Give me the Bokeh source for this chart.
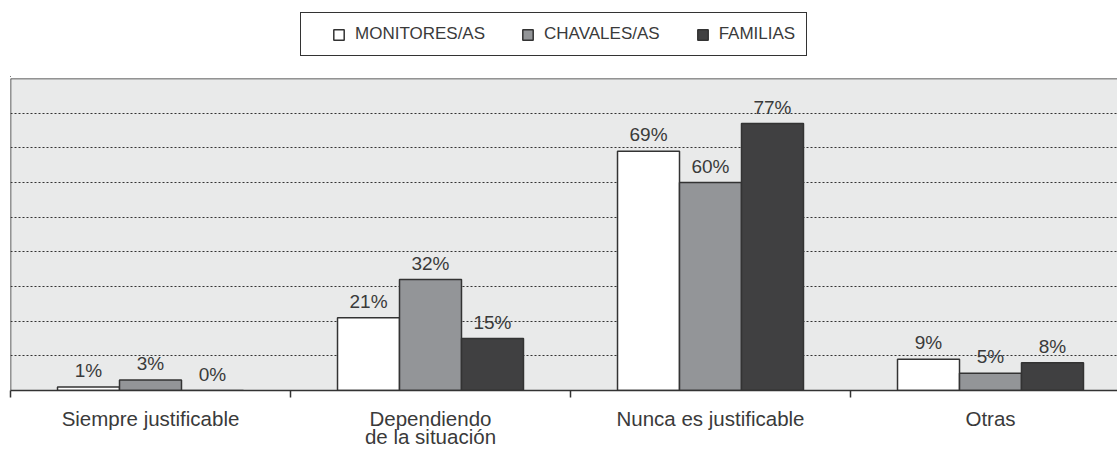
from bokeh.plotting import figure
from bokeh.layouts import column
from bokeh.models import (ColumnDataSource, Legend, LegendItem, FixedTicker, Span, Range1d)
from bokeh.transform import dodge
from bokeh.core.properties import value
from bokeh.embed import file_html
from bokeh.resources import INLINE

categories = ["Siempre justificable", "Dependiendo\nde la situación", "Nunca es justificable", "Otras"]
series_names = ["MONITORES/AS", "CHAVALES/AS", "FAMILIAS"]
monitores = [1, 21, 69, 9]
chavales = [3, 32, 60, 5]
familias = [0, 15, 77, 8]
grid_ticks = [10, 20, 30, 40, 50, 60, 70, 80]

FONT = "Liberation Sans"
TXT = "#3a3a3a"
EDGE = "#333333"
colors = ["#ffffff", "#939598", "#404041"]

xs = [i + 0.5 for i in range(len(categories))]
src = ColumnDataSource(dict(
    x=xs,
    m=monitores, c=chavales, f=familias,
    ml=[f"{v}%" for v in monitores],
    cl=[f"{v}%" for v in chavales],
    fl=[f"{v}%" for v in familias],
))
fields = ["m", "c", "f"]
lfields = ["ml", "cl", "fl"]

# ---- legend strip (top) ----
TOP_H = 77
lg = figure(width=1117, height=TOP_H, output_backend="svg", toolbar_location=None,
            x_range=Range1d(100, 101), y_range=Range1d(1000, 1001),
            min_border_left=0, min_border_right=0, min_border_top=0, min_border_bottom=0)
lg.axis.visible = False
lg.grid.visible = False
lg.outline_line_color = None
lg_r = []
for fld, col in zip(fields, colors):
    lg_r.append(lg.vbar(x="x", top=fld, width=0.1, source=src, fill_color=col,
                        line_color=EDGE, line_width=1.5))
legend = Legend(items=[LegendItem(label=n, renderers=[r]) for n, r in zip(series_names, lg_r)],
                orientation="horizontal", location=(290, TOP_H - 56),
                title=" ", title_location="left", title_standoff=0)
legend.title_text_font = FONT
legend.title_text_font_size = "17px"
legend.border_line_color = EDGE
legend.border_line_alpha = 1.0
legend.border_line_width = 1.5
legend.padding = 11
legend.spacing = 36
legend.margin = 0
legend.glyph_width = 13
legend.glyph_height = 13
legend.label_standoff = 10
legend.label_text_font = FONT
legend.label_text_font_size = "17px"
legend.label_text_color = TXT
legend.background_fill_color = "white"
legend.background_fill_alpha = 1.0
legend.label_height = 20
lg.add_layout(legend, "center")

# ---- main chart ----
p = figure(width=1117, height=450 - TOP_H, output_backend="svg", toolbar_location=None,
           x_range=Range1d(0, 1107 / 280), y_range=Range1d(0, 90),
           min_border_left=10, min_border_right=0, min_border_top=1, min_border_bottom=50,
           background_fill_color="#e9eaea", border_fill_color="white")
p.outline_line_color = None
p.xgrid.grid_line_color = None
p.ygrid.ticker = FixedTicker(ticks=grid_ticks)
p.ygrid.grid_line_color = EDGE
p.ygrid.grid_line_dash = "2 2"
p.ygrid.grid_line_width = 1
p.yaxis.visible = False

bw = 0.2214
offs = [-bw, 0, bw]
for fld, lf, off, col in zip(fields, lfields, offs, colors):
    p.vbar(x=dodge("x", off), top=fld, width=bw, source=src, fill_color=col,
           line_color=EDGE, line_width=1.5)
    p.text(x=dodge("x", off), y=fld, text=lf, source=src, text_align="center",
           text_baseline="bottom", y_offset=-6, text_font=value(FONT),
           text_font_size="19px", text_color=TXT)

# frame borders (top & left)
p.add_layout(Span(location=90, dimension="width", line_color=EDGE, line_width=1.5))
p.add_layout(Span(location=0, dimension="height", line_color=EDGE, line_width=1.5))

ax = p.xaxis[0]
ax.ticker = FixedTicker(ticks=xs, minor_ticks=[0, 1, 2, 3, 4])
ax.major_label_overrides = {x: c for x, c in zip(xs, categories)}
ax.major_tick_line_color = None
ax.major_tick_out = 0
ax.major_tick_in = 0
ax.minor_tick_line_color = EDGE
ax.minor_tick_out = 7
ax.minor_tick_in = 0
ax.minor_tick_line_width = 1.5
ax.axis_line_color = EDGE
ax.axis_line_width = 1.5
ax.major_label_standoff = 9
ax.major_label_text_font = FONT
ax.major_label_text_font_size = "20.5px"
ax.major_label_text_color = TXT
ax.major_label_text_line_height = 0.8

open("out.html", "w").write(file_html(column(lg, p, spacing=0), INLINE))
